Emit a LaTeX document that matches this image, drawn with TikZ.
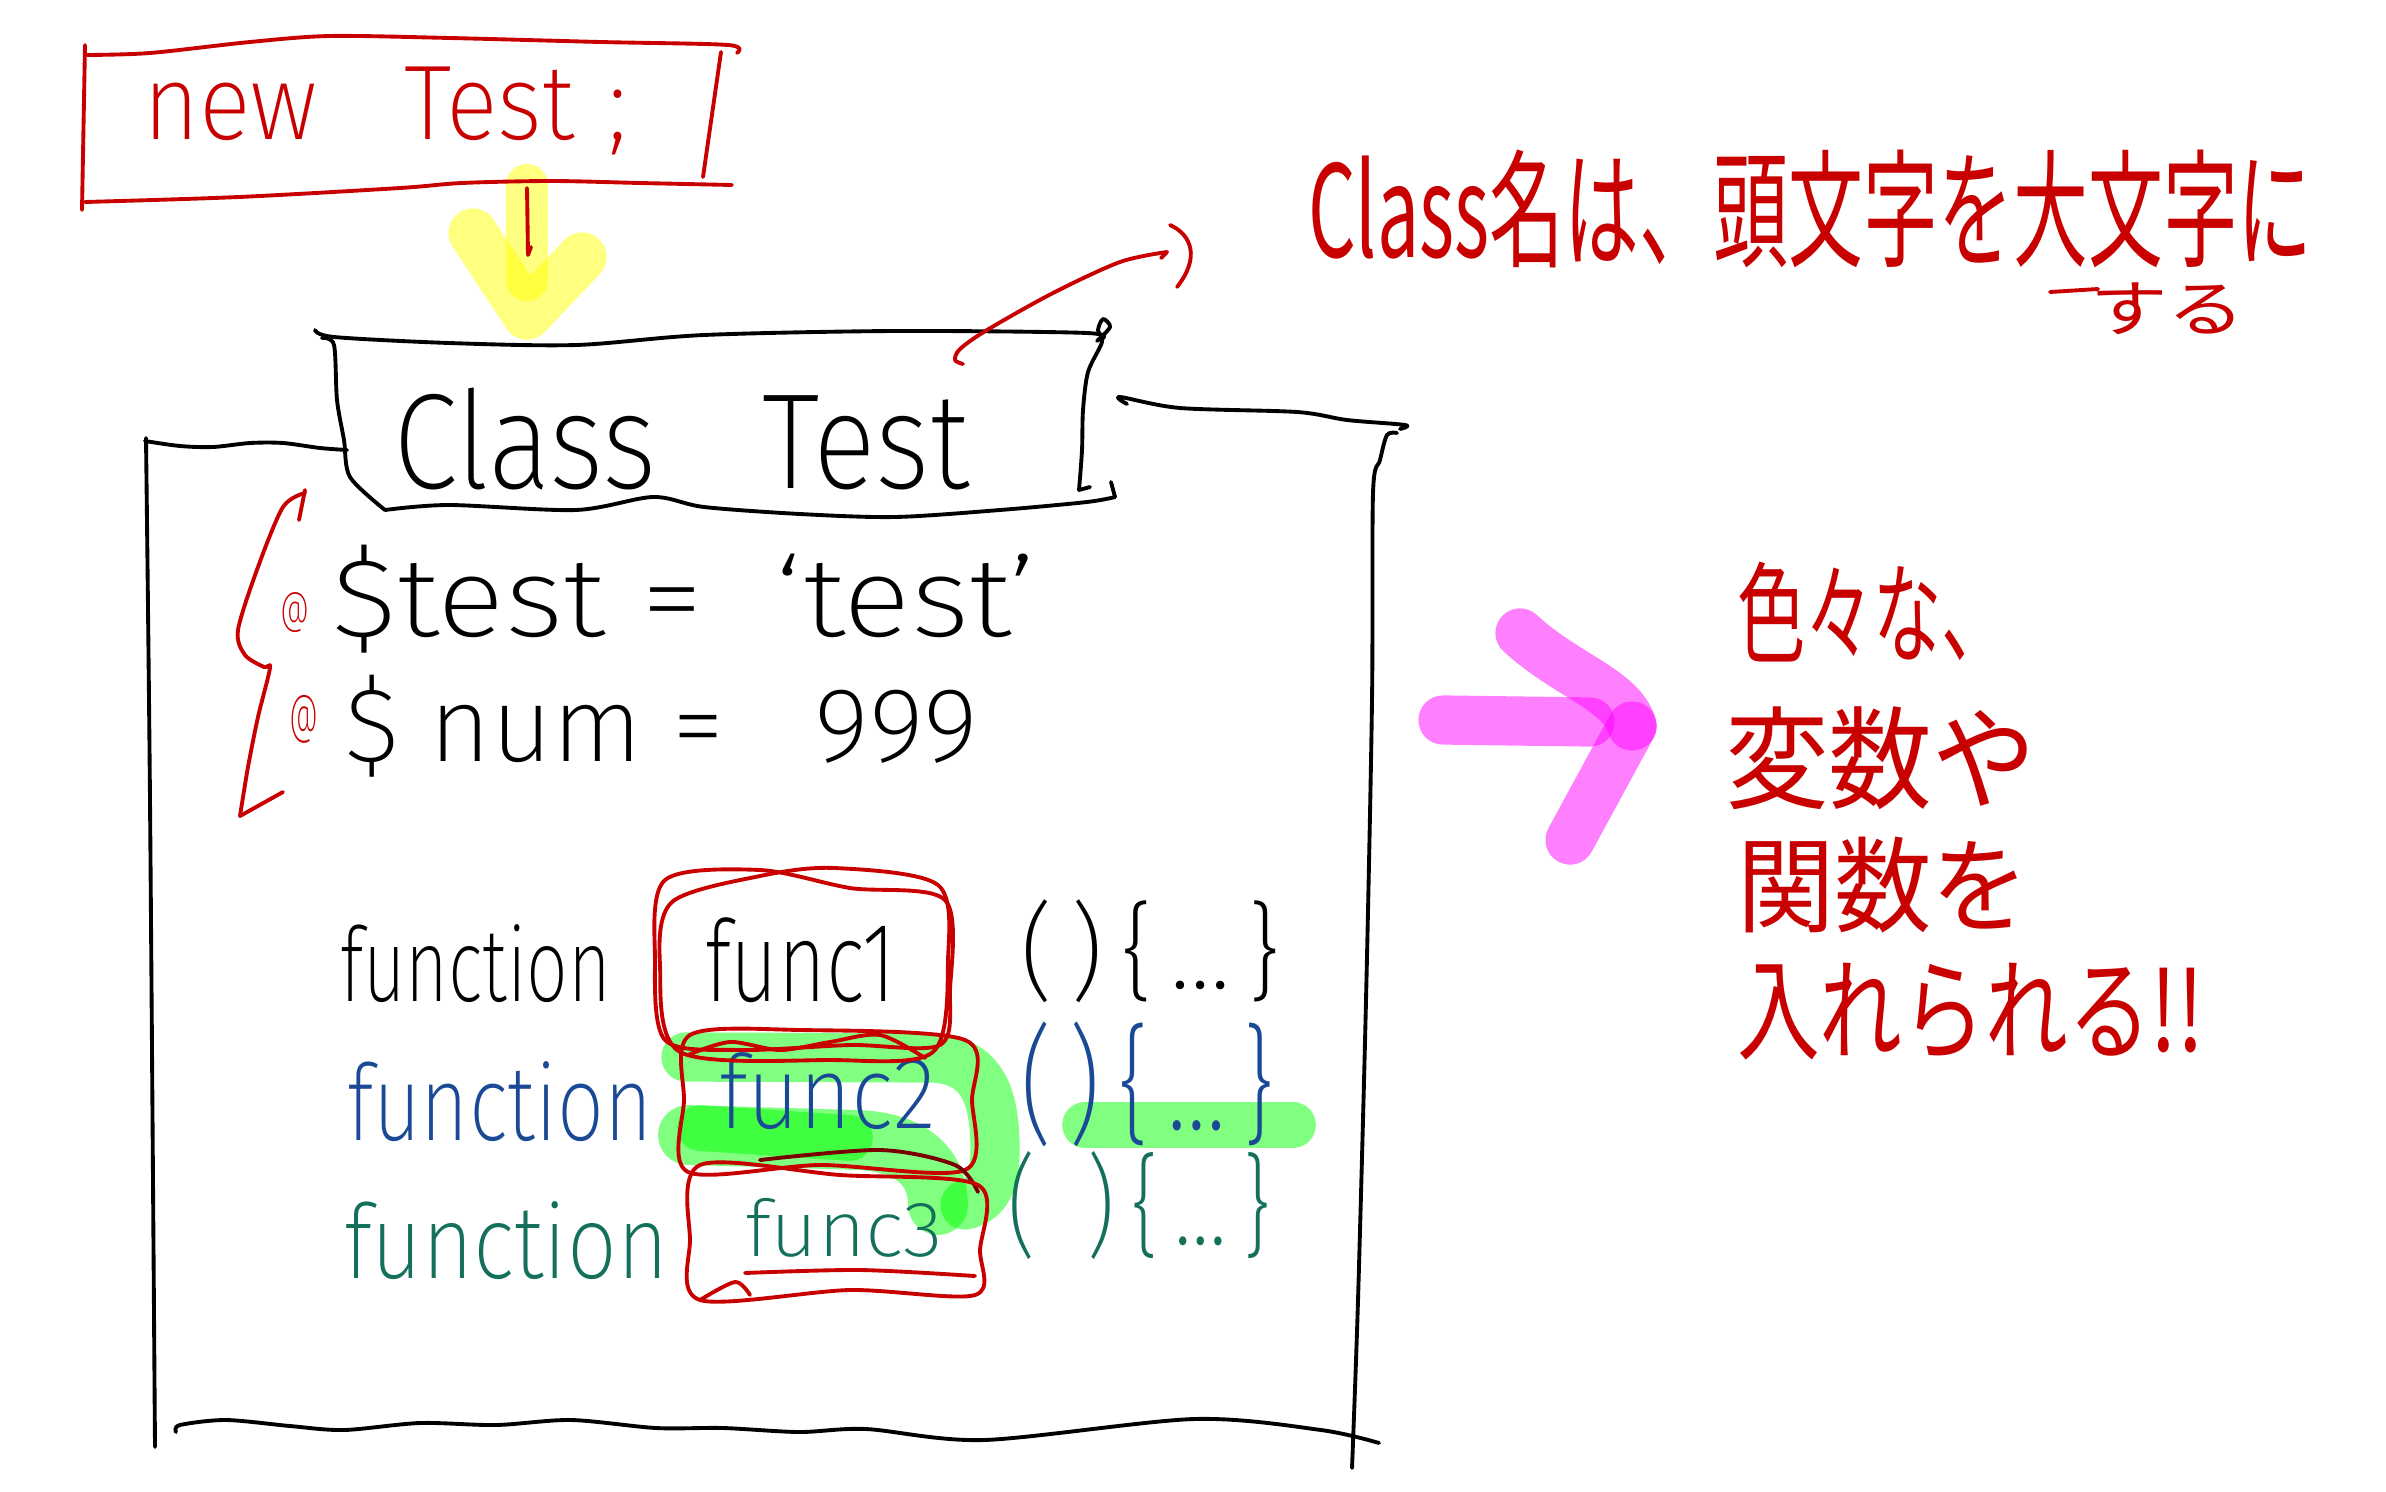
\documentclass[tikz,border=0pt]{standalone}
\usepackage{fontspec}
\usepackage{graphicx}
\setmainfont{Fira Sans ExtraLight}
\newfontfamily\jp{Noto Sans CJK JP}
\definecolor{pred}{HTML}{C80000}
\definecolor{pblue}{HTML}{1A4A96}
\definecolor{pgreen}{HTML}{14705A}
\definecolor{hlyellow}{HTML}{FFFF80}
\definecolor{hlpink}{HTML}{FF80FF}
\definecolor{hlgreen}{HTML}{80FF80}
\tikzset{
  pen/.style={line width=1.1pt,line cap=round,line join=round},
  hl/.style={line width=14pt,line cap=round,line join=round,blend mode=multiply},
  txt/.style={inner sep=0pt,outer sep=0pt,anchor=south west},
}
\begin{document}
\begin{tikzpicture}[x=0.01cm,y=-0.01cm]
\useasboundingbox[fill=white] (0,0) rectangle (2386,1491);

% ---------- highlighter strokes ----------
\coordinate (ya) at (527,185);
\coordinate (yb) at (527,280);
\coordinate (yl) at (473,233);
\coordinate (yt) at (527,315);
\coordinate (yr) at (582,257);
\draw[hl,hlyellow,line width=12pt] (ya) -- (yb);
\draw[hl,hlyellow] (yl) -- (yt) -- (yr);

\coordinate (pa) at (1443,720);
\coordinate (pb) at (1590,722);
\coordinate (pc) at (1520,633);
\coordinate (pe) at (1632,726);
\coordinate (pf) at (1570,840);
\draw[hl,hlpink] (pa) -- (pb);
\draw[hl,hlpink] (pc) .. controls (1565,675) and (1622,690) .. (pe);
\draw[hl,hlpink] (pe) -- (pf);

\draw[hl,hlgreen] (686,1057) -- (935,1058) .. controls (985,1062) and (995,1100) .. (995,1150) .. controls (995,1185) and (985,1200) .. (965,1205);
\draw[hl,hlgreen,line width=17pt] (688,1135) -- (860,1140) .. controls (915,1143) and (938,1170) .. (938,1205);
\draw[hl,hlgreen,line width=13pt] (700,1128) -- (850,1138);
\draw[hl,hlgreen,line width=13pt] (1085,1125) -- (1293,1125);

% ---------- new Test; ----------
\node[txt,text=pred] (newt) at (143,155) {\resizebox*{4.84cm}{0.88cm}{new\hspace{0.9em}Test\hspace{0.35em};}};
\draw[pen,pred] plot[smooth] coordinates {(87,55) (150,53) (250,42) (330,36) (450,38) (600,42) (728,45) (737,53)};
\draw[pen,pred] (85,45) -- (82,210);
\draw[pen,pred] plot[smooth] coordinates {(85,202) (239,197) (400,188) (462,183) (551,181) (640,183) (732,185)};
\draw[pen,pred] (721,52) -- (703,177);
\draw[pen,pred] (527,188) -- (528,255) -- (531,247);

% ---------- Class Test ----------
\node[txt] (cls) at (393,490) {\resizebox*{5.76cm}{1.02cm}{Class\hspace{0.9em}Test}};
\draw[pen] plot[smooth] coordinates {(315,330) (334,337) (449,343) (576,345) (704,335) (895,331) (1087,333) (1100,340)};
\draw[pen] plot[smooth] coordinates {(1097,341) (1110,327) (1103,319) (1098,330) (1102,342) (1088,372) (1083,410) (1082,450) (1079,490)};
\draw[pen] (1079,490) -- (1090,487);
\draw[pen] (1111,482) -- (1115,497);
\draw[pen] plot[smooth] coordinates {(322,338) (334,345) (337,400) (344,440) (350,477) (385,510)};
\draw[pen] plot[smooth] coordinates {(385,510) (449,505) (576,510) (653,497) (704,507) (800,514) (895,517) (1000,510) (1087,502) (1115,497)};

% red arrow to note
\draw[pen,pred] plot[smooth] coordinates {(963,364) (955,360) (960,349) (987,330) (1053,293) (1120,262) (1167,252)};
\draw[pen,pred] (1167,252) -- (1161,258);
\draw[pen,pred] (1170,225) .. controls (1192,235) and (1200,258) .. (1177,287);

% note
\node[txt,text=pred] (note) at (1308,268) {\resizebox*{10.04cm}{1.18cm}{\jp Class名は、頭文字を大文字に}};
\node[txt,text=pred] (note2) at (2090,335) {\resizebox*{1.55cm}{0.52cm}{\jp する}};
\draw[pen,pred] (2050,292) -- (2098,289);

% ---------- outer box ----------
\draw[pen] plot[smooth] coordinates {(145,441) (180,446) (213,447) (250,443) (283,443) (320,448) (347,450)};
\draw[pen] plot[smooth] coordinates {(146,438) (150,800) (155,1447)};
\draw[pen] plot[smooth] coordinates {(1127,404) (1120,397) (1180,408) (1297,412) (1347,420) (1405,425) (1400,429)};
\draw[pen] plot[smooth] coordinates {(1397,433) (1387,435) (1380,460) (1373,493) (1372,700) (1366,1000) (1358,1300) (1352,1468)};
\draw[pen] plot[smooth] coordinates {(176,1432) (180,1425) (226,1420) (290,1426) (344,1430) (420,1423) (496,1425) (571,1420) (656,1428) (723,1428) (799,1432) (866,1429) (984,1440) (1194,1419) (1321,1430) (1379,1443)};

% ---------- variables ----------
\draw[pen,pred] (305,490) -- (299,520);
\draw[pen,pred] plot[smooth] coordinates {(305,493) (283,507) (258,567) (238,630) (245,655) (264,667) (270,668) (258,717) (248,767) (240,816)};
\draw[pen,pred] (240,816) -- (283,792);
\node[txt,text=pred] (at1) at (280,633) {\resizebox*{0.29cm}{0.40cm}{@}};
\node[txt,text=pred] (at2) at (289,743) {\resizebox*{0.29cm}{0.48cm}{@}};
\node[txt] (v1) at (331,653) {\resizebox*{7.05cm}{1.08cm}{\$test\ =\ \ `test'}};
\node[txt] (v2) at (344,777) {\resizebox*{6.34cm}{1.02cm}{\$\ num\ =\ \ \ 999}};

% ---------- functions ----------
\node[txt] (f1) at (340,1003) {\resizebox*{2.71cm}{0.78cm}{function}};
\node[txt] (n1) at (705,1003) {\resizebox*{1.91cm}{0.85cm}{func1}};
\node[txt] (b1) at (1020,1003) {\resizebox*{2.61cm}{1.03cm}{(\,)\,\{\,…\,\}}};
\node[txt,text=pblue] (f2) at (347,1142) {\resizebox*{3.05cm}{0.80cm}{function}};
\node[txt,text=pblue] (n2) at (719,1130) {\resizebox*{2.17cm}{0.77cm}{func2}};
\node[txt,text=pblue] (b2) at (1020,1147) {\resizebox*{2.55cm}{1.25cm}{(\,)\,\{\,…\,\}}};
\node[txt,text=pgreen] (f3) at (344,1280) {\resizebox*{3.24cm}{0.78cm}{function}};
\node[txt,text=pgreen] (n3) at (745,1257) {\resizebox*{1.98cm}{0.59cm}{func3}};
\node[txt,text=pgreen] (b3) at (1007,1260) {\resizebox*{2.64cm}{1.08cm}{(\ \ )\,\{\,…\,\}}};

% red boxes
\draw[pen,pred] plot[smooth cycle] coordinates {(665,880) (760,870) (850,888) (945,900) (950,990) (940,1045) (850,1045) (740,1050) (665,1040) (655,960)};
\draw[pen,pred] plot[smooth cycle] coordinates {(672,902) (760,876) (835,868) (938,885) (948,960) (933,1052) (830,1060) (680,1052) (660,965)};
\draw[pen,pred] plot[smooth cycle] coordinates {(690,1035) (800,1030) (965,1040) (972,1100) (965,1170) (820,1165) (688,1172) (684,1100)};
\draw[pen,pred] plot[smooth] coordinates {(688,1055) (730,1042) (780,1050) (830,1042) (880,1035) (925,1058)};
\draw[pen,pred!60!black] plot[smooth] coordinates {(760,1160) (880,1150) (955,1165) (978,1192)};
\draw[pen,pred] plot[smooth cycle] coordinates {(700,1165) (840,1175) (978,1185) (980,1250) (975,1295) (850,1290) (700,1300) (690,1240)};
\draw[pen,pred] plot[smooth] coordinates {(745,1273) (860,1270) (975,1276)};
\draw[pen,pred] plot[smooth] coordinates {(700,1300) (735,1282) (750,1295)};

% ---------- right text ----------
\node[txt,text=pred] (r1) at (1737,662) {\resizebox*{2.73cm}{1.00cm}{\jp 色々な、}};
\node[txt,text=pred] (r2) at (1725,810) {\resizebox*{3.11cm}{1.03cm}{\jp 変数や}};
\node[txt,text=pred] (r3) at (1737,933) {\resizebox*{2.92cm}{0.96cm}{\jp 関数を}};
\node[txt,text=pred] (r4) at (1737,1060) {\resizebox*{4.67cm}{0.97cm}{\jp 入れられる!!}};
\end{tikzpicture}
\end{document}
